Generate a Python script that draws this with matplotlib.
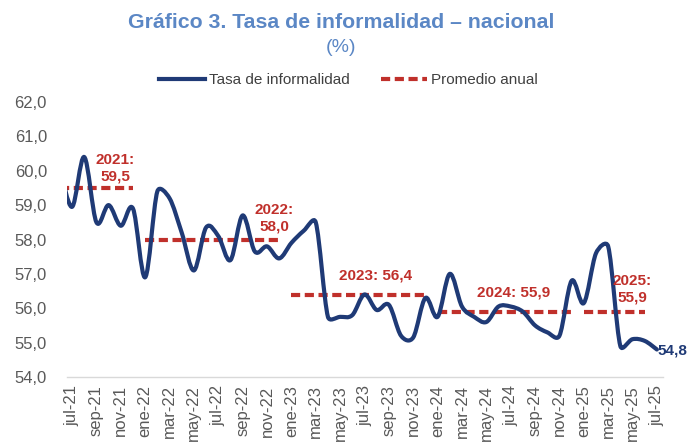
import numpy as np
import matplotlib
matplotlib.use("Agg")
import matplotlib.pyplot as plt
from matplotlib.path import Path
from matplotlib.patches import PathPatch
from matplotlib.lines import Line2D

plt.rcParams['font.family'] = ['Liberation Sans', 'DejaVu Sans']

# ---------------- data ----------------
month_abbr = ["ene", "feb", "mar", "abr", "may", "jun",
              "jul", "ago", "sep", "oct", "nov", "dic"]
# monthly series starting jun-21 (partially clipped at the left edge) to jul-25
start_year, start_month = 2021, 6
informalidad = [60.1,
                58.95, 60.4, 58.5, 59.0, 58.4, 58.9,
                56.9, 59.4, 59.2, 58.2, 57.1, 58.35, 58.1, 57.4, 58.7, 57.65, 57.8, 57.45,
                57.9, 58.25, 58.5, 55.75, 55.75, 55.8, 56.4, 55.95, 56.1, 55.2, 55.15, 56.3,
                55.75, 57.0, 56.05, 55.75, 55.6, 56.05, 56.05, 55.9, 55.5, 55.3, 55.2, 56.8,
                56.15, 57.6, 57.8, 54.9, 55.1, 55.05, 54.8]
categories = []
for k in range(len(informalidad)):
    m = (start_month - 1 + k) % 12
    yv = start_year + (start_month - 1 + k) // 12
    categories.append(f"{month_abbr[m]}-{yv % 100:02d}")

avg_values = [59.5, 58.0, 56.4, 55.9, 55.9]
avg_start = ["jun-21", "ene-22", "ene-23", "ene-24", "ene-25"]
avg_end = ["dic-21", "dic-22", "dic-23", "dic-24", "jun-25"]
avg_labels = ["2021:\n59,5", "2022:\n58,0", "2023: 56,4", "2024: 55,9", "2025:\n55,9"]

yticks = [54, 55, 56, 57, 58, 59, 60, 61, 62]

# ---------------- style ----------------
NAVY = "#1F3A76"
RED = "#C0302B"
TITLE_C = "#5B87C5"
GRAY_T = "#595959"

fig = plt.figure(figsize=(6.89, 4.43), dpi=100)
ax = fig.add_axes([66.7 / 689, 1 - 377 / 443, (663 - 66.7) / 689, 275 / 443])
XLIM = (0.56, len(informalidad) - 0.5)
YLIM = (54, 62)
ax.set_xlim(*XLIM)
ax.set_ylim(*YLIM)

x = np.arange(len(informalidad))
y = np.array(informalidad)

# smoothed line: Catmull-Rom style Bezier, with arms clamped to half the
# segment length (computed in display-proportional space)
sx = 596.3 / (XLIM[1] - XLIM[0])
sy = 275.0 / (YLIM[1] - YLIM[0])
P = np.column_stack([x * sx, y * sy]).astype(float)
n = len(P)
D = np.zeros_like(P)
for i in range(n):
    D[i] = (P[min(i + 1, n - 1)] - P[max(i - 1, 0)]) / 6.0


def arm(d, L, k=0.5):
    ln = np.hypot(*d)
    if ln > k * L:
        return d * (k * L / ln)
    return d


verts = [tuple(P[0])]
codes = [Path.MOVETO]
for i in range(n - 1):
    L = np.hypot(*(P[i + 1] - P[i]))
    c1 = P[i] + arm(D[i], L)
    c2 = P[i + 1] - arm(D[i + 1], L)
    verts += [tuple(c1), tuple(c2), tuple(P[i + 1])]
    codes += [Path.CURVE4] * 3
verts = np.array(verts) / np.array([sx, sy])
patch = PathPatch(Path(verts, codes), facecolor="none", edgecolor=NAVY,
                  lw=3.0, capstyle="round", joinstyle="round", zorder=4)
ax.add_patch(patch)

# annual averages
for av, a0, a1 in zip(avg_values, avg_start, avg_end):
    i0, i1 = categories.index(a0), categories.index(a1)
    ax.plot([x[i0], x[i1]], [av, av], color=RED, lw=3.0,
            dashes=(2.2, 1.1), dash_capstyle="butt", zorder=3)

# average labels
lab_pos = [(4.53, 60.07), (17.58, 58.61), (25.87, 56.94), (37.2, 56.46), (47.0, 56.56)]
for (lx, ly), txt in zip(lab_pos, avg_labels):
    ax.text(lx, ly, txt, color=RED, fontsize=11, fontweight="bold",
            ha="center", va="center", linespacing=1.2, zorder=5)

# last value label
ax.annotate(f"{informalidad[-1]:.1f}".replace(".", ","), xy=(x[-1], y[-1]),
            xytext=(0.5, -1), textcoords="offset points", color=NAVY,
            fontsize=11, fontweight="bold", ha="left", va="center",
            annotation_clip=False)

ax.set_yticks(yticks)
ax.set_yticklabels([f"{v:.1f}".replace(".", ",") for v in yticks])
tick_idx = list(range(1, len(categories), 2))
ax.set_xticks(tick_idx)
ax.set_xticklabels([categories[i] for i in tick_idx], rotation=90)
ax.tick_params(axis="y", length=0, pad=14.2, labelsize=12, labelcolor=GRAY_T)
ax.tick_params(axis="x", length=0, pad=6, labelsize=12, labelcolor=GRAY_T)
for sp in ["top", "right", "left"]:
    ax.spines[sp].set_visible(False)
ax.spines["bottom"].set_color("#D9D9D9")
ax.spines["bottom"].set_linewidth(1.0)
ax.patch.set_alpha(0)

# title
fig.text(341 / 689, 1 - 23 / 443, "Gráfico 3. Tasa de informalidad – nacional",
         ha="center", va="center", fontsize=15.3, fontweight="bold", color=TITLE_C)
fig.text(341 / 689, 1 - 48 / 443, "(%)", ha="center", va="center",
         fontsize=14, color=TITLE_C)

# legend
handles = [Line2D([], [], color=NAVY, lw=3.0),
           Line2D([], [], color=RED, lw=3.0, dashes=(2.2, 1.1))]
fig.legend(handles, ["Tasa de informalidad", "Promedio anual"], loc="center",
           bbox_to_anchor=(348.5 / 689, 1 - 80 / 443), ncol=2, frameon=False,
           fontsize=11, handlelength=3.0, handletextpad=0.3, columnspacing=2.0,
           labelcolor="#404040")

fig.savefig("out.png", dpi=100)
